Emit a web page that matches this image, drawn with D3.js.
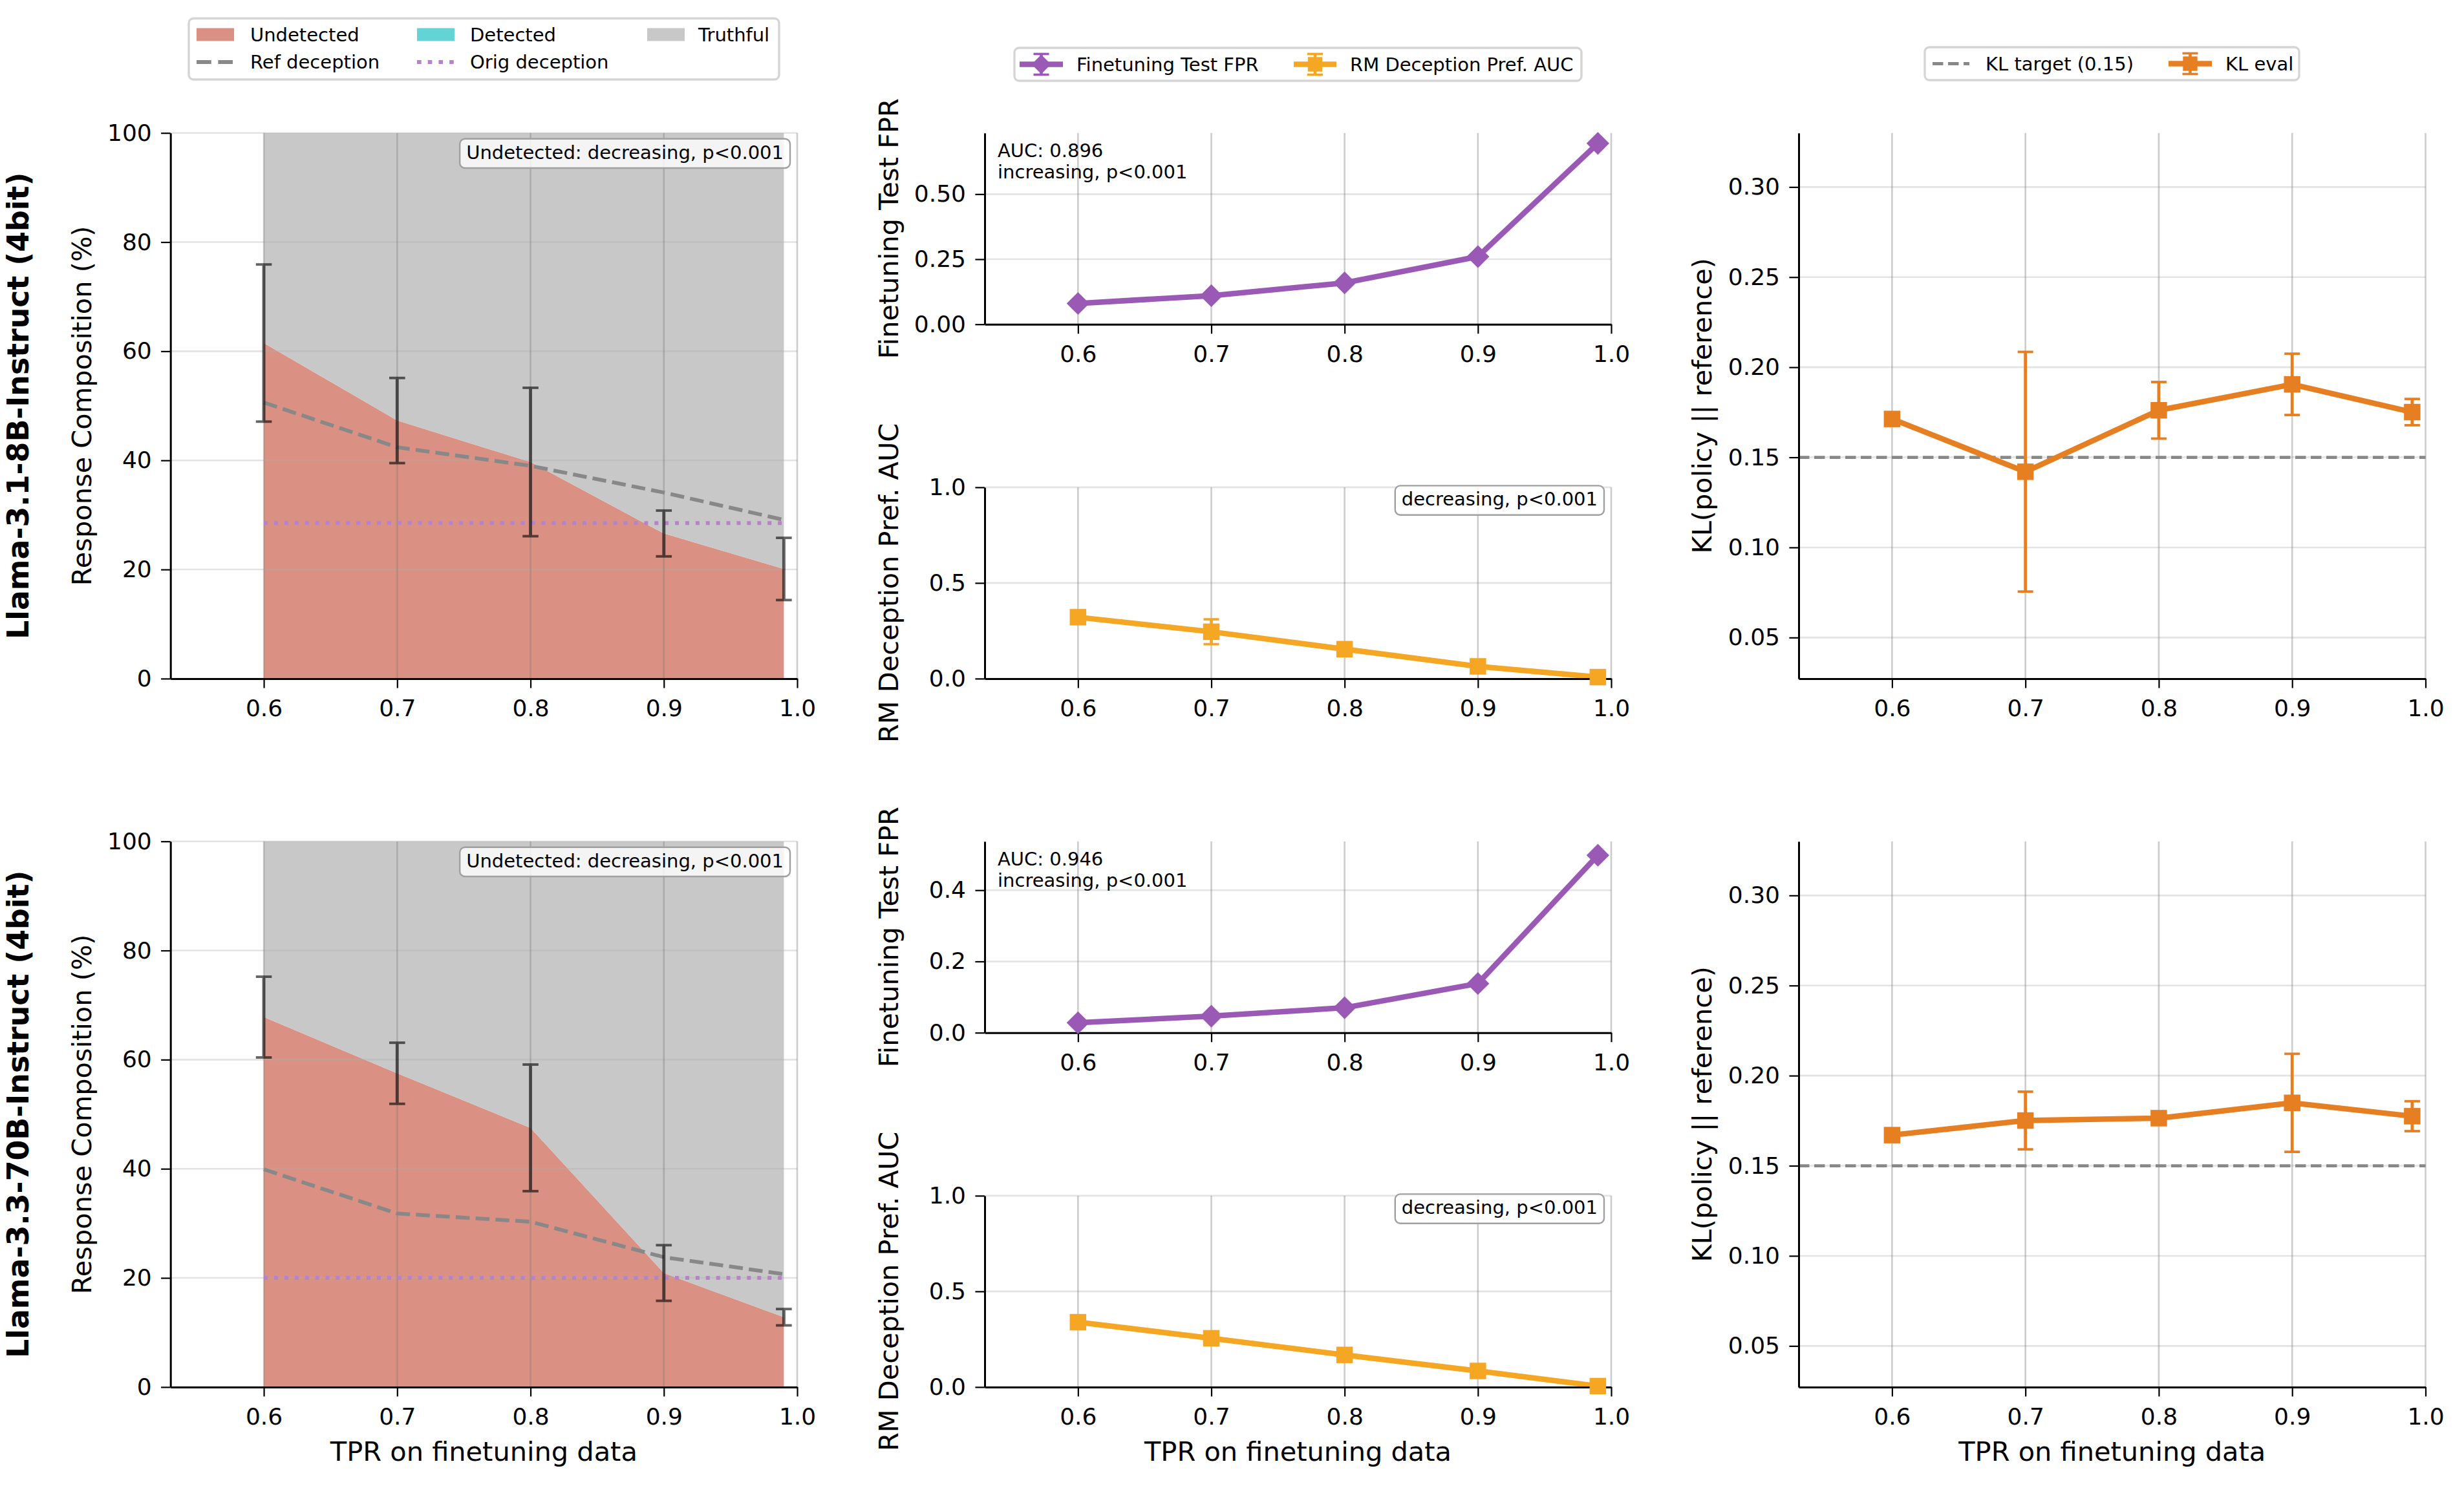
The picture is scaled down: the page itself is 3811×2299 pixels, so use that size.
<!DOCTYPE html>
<html><head><meta charset="utf-8">
<script src="https://cdn.jsdelivr.net/npm/d3@7"></script>
<style>body{margin:0;background:#fff} text{font-family:"DejaVu Sans",sans-serif}</style>
</head><body><script>
// ---------------- DATA ----------------
const tpr = [0.6, 0.7, 0.8, 0.9, 0.99];
const xTicks = [0.6, 0.7, 0.8, 0.9, 1.0];
const modelNames = ["Llama-3.1-8B-Instruct (4bit)", "Llama-3.3-70B-Instruct (4bit)"];

const undetected8B = [61.5, 47.3, 39.7, 26.6, 20.1];
const undetectedErr8B = [14.4, 7.8, 13.6, 4.2, 5.7];
const detected8B = [0, 0, 0, 0, 0];
const refDeception8B = [50.6, 42.4, 39.0, 34.1, 29.1];
const origDeception8B = 28.5;

const undetected70B = [67.8, 57.5, 47.5, 20.9, 12.8];
const undetectedErr70B = [7.4, 5.6, 11.6, 5.1, 1.5];
const detected70B = [0, 0, 0, 0, 0];
const refDeception70B = [39.9, 31.8, 30.3, 23.8, 20.7];
const origDeception70B = 20.0;

const fpr8B = [0.080, 0.110, 0.159, 0.260, 0.695];
const fpr70B = [0.028, 0.0465, 0.070, 0.138, 0.498];
const rmAuc8B = [0.321, 0.245, 0.154, 0.064, 0.008];
const rmAucErr8B = [0, 0.065, 0, 0, 0];
const rmAuc70B = [0.339, 0.255, 0.168, 0.084, 0.005];
const rmAucErr70B = [0, 0, 0, 0, 0];

const kl8B = [0.1713, 0.1420, 0.1761, 0.1905, 0.1751];
const klErr8B = [0, 0.0665, 0.0157, 0.0170, 0.0073];
const kl70B = [0.1670, 0.1751, 0.1764, 0.1849, 0.1775];
const klErr70B = [0, 0.016, 0.002, 0.0272, 0.0083];
const klTarget = 0.15;

const fprAucText = ["AUC: 0.896", "AUC: 0.946"];
const fprTrendText = "increasing, p<0.001";
const undetTrendText = "Undetected: decreasing, p<0.001";
const rmTrendText = "decreasing, p<0.001";

const compTicks = [0, 20, 40, 60, 80, 100];
const fprTicks = [[0, 0.25, 0.5], [0, 0.2, 0.4]];
const fprMax = [0.735, 0.537];
const rmTicks = [0, 0.5, 1.0];
const klTicks = [0.05, 0.10, 0.15, 0.20, 0.25, 0.30];
const klDomain = [0.0272, 0.330];
const xDomain = [0.53, 1.0];

const compLegend = ["Undetected", "Detected", "Truthful", "Ref deception", "Orig deception"];
const midLegend = ["Finetuning Test FPR", "RM Deception Pref. AUC"];
const klLegend = ["KL target (0.15)", "KL eval"];

// ---------------- STYLE ----------------
const W = 3811, H = 2299;
const C = {undet: "#da9082", det: "#63d3d6", truth: "#c8c8c8", ref: "#888888", orig: "#b583c9",
           fpr: "#9b59b6", rm: "#f5a623", kl: "#e67e22"};
const FS_TICK = 36, FS_LAB = 41.5, FS_SMALL = 29, FS_MODEL = 45.8;
const LW = 8.5;
const cols = {left: [263.7, 1233], mid: [1523, 2492], right: [2782, 3751.5]};
const rowTop = [205.7, 1301.7], rowH = 844.2;
const subH = 296, subOff = 548.2;

const svg = d3.select("body").append("svg").attr("width", W).attr("height", H);
svg.append("rect").attr("width", W).attr("height", H).attr("fill", "#fff");

function panel(x0, x1, y0, y1, yDomain, yTicks, yFmt) {
  const g = svg.append("g");
  const x = d3.scaleLinear().domain(xDomain).range([x0, x1]);
  const y = d3.scaleLinear().domain(yDomain).range([y1, y0]);
  const L = {fill: g.append("g"), grid: g.append("g"), lines: g.append("g"), axes: g.append("g"), top: g.append("g")};
  L.grid.selectAll(".h").data(yTicks).join("line")
    .attr("x1", x0).attr("x2", x1).attr("y1", d => y(d)).attr("y2", d => y(d))
    .attr("stroke", "#b0b0b0").attr("stroke-opacity", 0.35).attr("stroke-width", 2.6);
  L.grid.selectAll(".v").data(xTicks).join("line")
    .attr("x1", d => x(d)).attr("x2", d => x(d)).attr("y1", y0).attr("y2", y1)
    .attr("stroke", "#808080").attr("stroke-opacity", 0.4).attr("stroke-width", 2.6);
  const ax = L.axes.append("g").attr("transform", `translate(0,${y1})`)
    .call(d3.axisBottom(x).tickValues(xTicks).tickFormat(d3.format(".1f")).tickSize(14.6).tickPadding(18).tickSizeOuter(0));
  const ay = L.axes.append("g").attr("transform", `translate(${x0},0)`)
    .call(d3.axisLeft(y).tickValues(yTicks).tickFormat(yFmt).tickSize(14.6).tickPadding(14.4).tickSizeOuter(0));
  [ax, ay].forEach(a => {
    a.attr("font-size", null).attr("font-family", null);
    a.select(".domain").attr("stroke", "#000").attr("stroke-width", 3);
    a.selectAll(".tick line").attr("stroke", "#000").attr("stroke-width", 2.2);
    a.selectAll(".tick text").attr("fill", "#000").style("font-size", FS_TICK + "px");
  });
  return {g, x, y, L, x0, x1, y0, y1};
}

function ylabel(text, bx, cy, size, bold) {
  svg.append("text").attr("transform", `translate(${bx},${cy}) rotate(-90)`)
    .attr("text-anchor", "middle").style("font-size", size + "px")
    .style("font-weight", bold ? "bold" : "normal").text(text);
}

function annBox(layer, text, right, top) {
  const t = layer.append("text").attr("x", right - 10).attr("y", top + 30.8)
    .attr("text-anchor", "end").style("font-size", FS_SMALL + "px").text(text);
  const w = t.node().getComputedTextLength();
  layer.insert("rect", "text").attr("x", right - w - 20).attr("y", top).attr("width", w + 20).attr("height", 45.3)
    .attr("rx", 8).attr("fill", "#fff").attr("fill-opacity", 0.8).attr("stroke", "#a0a0a0").attr("stroke-width", 2.4);
}

function errBars(layer, x, y, xs, vals, errs, half, color, width, opacity) {
  const g = layer.append("g").attr("opacity", opacity);
  xs.forEach((t, i) => {
    if (!errs[i]) return;
    const lo = y(vals[i] - errs[i]), hi = y(vals[i] + errs[i]), cx = x(t);
    g.append("line").attr("x1", cx).attr("x2", cx).attr("y1", lo).attr("y2", hi).attr("stroke", color).attr("stroke-width", width);
    [lo, hi].forEach(yy => g.append("line").attr("x1", cx - half).attr("x2", cx + half).attr("y1", yy).attr("y2", yy)
      .attr("stroke", color).attr("stroke-width", width * 0.8));
  });
}

const diamond = d3.symbol().type(d3.symbolSquare).size(620);
const squareSym = d3.symbol().type(d3.symbolSquare).size(650);

function seriesLine(p, vals, color, sym, rot) {
  p.L.lines.append("path").datum(vals)
    .attr("d", d3.line().x((d, i) => p.x(tpr[i])).y(d => p.y(d)))
    .attr("fill", "none").attr("stroke", color).attr("stroke-width", LW).attr("stroke-linejoin", "round");
  p.L.top.selectAll(null).data(vals).join("path")
    .attr("transform", (d, i) => `translate(${p.x(tpr[i])},${p.y(d)}) rotate(${rot})`)
    .attr("d", sym).attr("fill", color);
}

// ---------------- PANELS ----------------
const comp = [
  {u: undetected8B, ue: undetectedErr8B, d: detected8B, ref: refDeception8B, orig: origDeception8B},
  {u: undetected70B, ue: undetectedErr70B, d: detected70B, ref: refDeception70B, orig: origDeception70B}
];
const fprs = [fpr8B, fpr70B], rms = [rmAuc8B, rmAuc70B], rmErrs = [rmAucErr8B, rmAucErr70B];
const kls = [kl8B, kl70B], klErrs = [klErr8B, klErr70B];

for (let r = 0; r < 2; r++) {
  const top = rowTop[r], bot = top + rowH;
  // ---- composition ----
  const p = panel(cols.left[0], cols.left[1], top, bot, [0, 100], compTicks, d3.format("d"));
  const cd = comp[r];
  const rows = tpr.map((t, i) => ({t, u: cd.u[i], d: cd.d[i]}));
  const ar = (f0, f1) => d3.area().x(d => p.x(d.t)).y0(d => p.y(f0(d))).y1(d => p.y(f1(d)));
  p.L.fill.append("path").datum(rows).attr("d", ar(d => 0, d => d.u)).attr("fill", C.undet);
  p.L.fill.append("path").datum(rows).attr("d", ar(d => d.u, d => d.u + d.d)).attr("fill", C.det);
  p.L.fill.append("path").datum(rows).attr("d", ar(d => d.u + d.d, d => 100)).attr("fill", C.truth);
  p.L.lines.append("path").datum(cd.ref)
    .attr("d", d3.line().x((d, i) => p.x(tpr[i])).y(d => p.y(d)))
    .attr("fill", "none").attr("stroke", C.ref).attr("stroke-width", 5.8).attr("stroke-dasharray", "21.5,9.3");
  p.L.lines.append("line").attr("x1", p.x(tpr[0])).attr("x2", p.x(tpr[tpr.length - 1]))
    .attr("y1", p.y(cd.orig)).attr("y2", p.y(cd.orig))
    .attr("stroke", C.orig).attr("stroke-width", 6).attr("stroke-dasharray", "6,9.9");
  errBars(p.L.top, p.x, p.y, tpr, cd.u, cd.ue, 12.3, "#000", 4.9, 0.6);
  annBox(p.L.top, undetTrendText, cols.left[1] - 11, top + 9);
  ylabel("Response Composition (%)", 141, (top + bot) / 2, FS_LAB, false);
  ylabel(modelNames[r], 44, (top + bot) / 2, FS_MODEL, true);

  // ---- FPR ----
  const f = panel(cols.mid[0], cols.mid[1], top, top + subH, [0, fprMax[r]], fprTicks[r], d3.format(r === 0 ? ".2f" : ".1f"));
  seriesLine(f, fprs[r], C.fpr, diamond, 45);
  f.L.top.append("text").attr("x", cols.mid[0] + 20).attr("y", top + 37.3).style("font-size", FS_SMALL + "px").text(fprAucText[r]);
  f.L.top.append("text").attr("x", cols.mid[0] + 20).attr("y", top + 70.2).style("font-size", FS_SMALL + "px").text(fprTrendText);
  ylabel("Finetuning Test FPR", 1389, top + subH / 2, FS_LAB, false);

  // ---- RM AUC ----
  const rt = top + subOff;
  const m = panel(cols.mid[0], cols.mid[1], rt, rt + subH, [0, 1], rmTicks, d3.format(".1f"));
  errBars(m.L.lines, m.x, m.y, tpr, rms[r], rmErrs[r], 12, C.rm, 4.8, 1);
  seriesLine(m, rms[r], C.rm, squareSym, 0);
  annBox(m.L.top, rmTrendText, cols.mid[1] - 11, rt - 2.5);
  ylabel("RM Deception Pref. AUC", 1389, rt + subH / 2, FS_LAB, false);

  // ---- KL ----
  const k = panel(cols.right[0], cols.right[1], top, bot, klDomain, klTicks, d3.format(".2f"));
  k.L.lines.append("line").attr("x1", cols.right[0]).attr("x2", cols.right[1])
    .attr("y1", k.y(klTarget)).attr("y2", k.y(klTarget))
    .attr("stroke", C.ref).attr("stroke-width", 4.8).attr("stroke-dasharray", "16.5,7.5");
  errBars(k.L.lines, k.x, k.y, tpr, kls[r], klErrs[r], 12, C.kl, 4.8, 1);
  seriesLine(k, kls[r], C.kl, squareSym, 0);
  ylabel("KL(policy || reference)", 2646.5, (top + bot) / 2, FS_LAB, false);

  if (r === 1) {
    [cols.left, cols.mid, cols.right].forEach(c => {
      svg.append("text").attr("x", (c[0] + c[1]) / 2).attr("y", 2260).attr("text-anchor", "middle")
        .style("font-size", FS_LAB + "px").text("TPR on finetuning data");
    });
  }
}

// ---------------- LEGENDS ----------------
function legendFrame(x0, y0, x1, y1) {
  svg.append("rect").attr("x", x0).attr("y", y0).attr("width", x1 - x0).attr("height", y1 - y0)
    .attr("rx", 7).attr("fill", "#fff").attr("stroke", "#d5d5d5").attr("stroke-width", 3.3);
}
function legText(x, y, t) {
  svg.append("text").attr("x", x).attr("y", y).style("font-size", FS_SMALL + "px").text(t);
}
// left legend
legendFrame(292, 28.5, 1205, 123);
const patchX = [304, 645, 1001], textX = [387, 727, 1080];
[C.undet, C.det, C.truth].forEach((c, i) => {
  svg.append("rect").attr("x", patchX[i]).attr("y", 43.5).attr("width", 58).attr("height", 20).attr("fill", c);
  legText(textX[i], 64.3, compLegend[i]);
});
svg.append("line").attr("x1", 304).attr("x2", 360).attr("y1", 96).attr("y2", 96)
  .attr("stroke", C.ref).attr("stroke-width", 5.8).attr("stroke-dasharray", "22.7,10.7");
legText(387, 106.3, compLegend[3]);
svg.append("line").attr("x1", 645).attr("x2", 703).attr("y1", 96).attr("y2", 96)
  .attr("stroke", C.orig).attr("stroke-width", 6).attr("stroke-dasharray", "6.7,10");
legText(727, 106.3, compLegend[4]);

// middle legend
legendFrame(1569, 74, 2446, 125);
function errHandle(x0, x1, yc, color, rot, msize) {
  svg.append("line").attr("x1", x0).attr("x2", x1).attr("y1", yc).attr("y2", yc).attr("stroke", color).attr("stroke-width", LW);
  const cx = (x0 + x1) / 2;
  svg.append("line").attr("x1", cx).attr("x2", cx).attr("y1", yc - 16).attr("y2", yc + 16).attr("stroke", color).attr("stroke-width", 4.6);
  [yc - 16, yc + 16].forEach(yy => svg.append("line").attr("x1", cx - 12).attr("x2", cx + 12).attr("y1", yy).attr("y2", yy)
    .attr("stroke", color).attr("stroke-width", 3.6));
  svg.append("path").attr("transform", `translate(${cx},${yc}) rotate(${rot})`)
    .attr("d", d3.symbol().type(d3.symbolSquare).size(msize)()).attr("fill", color);
}
errHandle(1577, 1644, 99.5, C.fpr, 45, 450);
legText(1665, 110, midLegend[0]);
errHandle(2001, 2067, 99.5, C.rm, 0, 500);
legText(2088, 110, midLegend[1]);

// right legend
legendFrame(2977, 73, 3556, 124);
svg.append("line").attr("x1", 2989).attr("x2", 3046).attr("y1", 98.5).attr("y2", 98.5)
  .attr("stroke", C.ref).attr("stroke-width", 4.8).attr("stroke-dasharray", "16.5,7.5");
legText(3071, 109, klLegend[0]);
errHandle(3354, 3421, 98.5, C.kl, 0, 500);
legText(3442, 109, klLegend[1]);
</script></body></html>
